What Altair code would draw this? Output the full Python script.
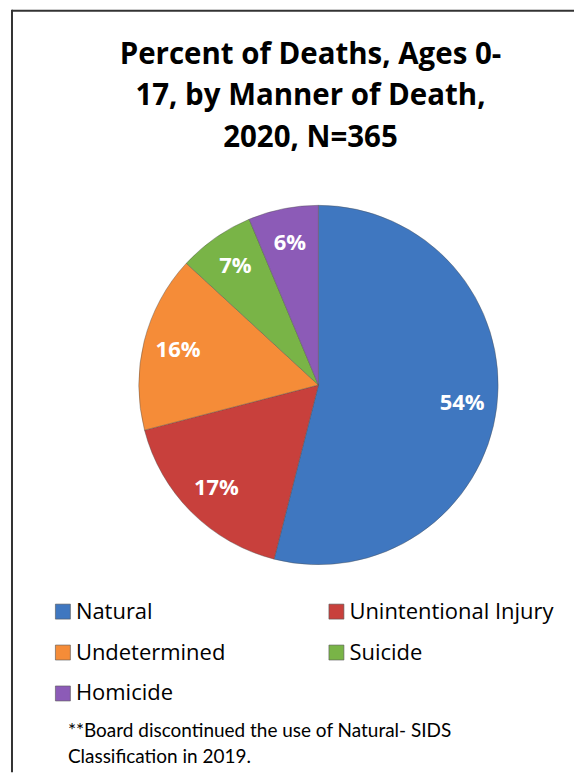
import altair as alt
import pandas as pd

CATEGORIES = ["Natural", "Unintentional Injury", "Undetermined", "Suicide", "Homicide"]
COUNTS = [197, 62, 58, 25, 23]
COLORS = ["#3f77c0", "#c8403c", "#f58c38", "#79b447", "#8c5bb7"]
TITLE_LINES = ["Percent of Deaths, Ages 0-", "17, by Manner of Death,", "2020, N=365"]
NOTE_LINES = ["**Board discontinued the use of Natural- SIDS", "Classification in 2019."]

df = pd.DataFrame({"cat": CATEGORIES, "count": COUNTS, "idx": list(range(len(CATEGORIES)))})

W, H = 567, 764
CX, CY, R = 311, 376, 180

base = alt.Chart(df).transform_joinaggregate(
    total="sum(count)"
).transform_calculate(
    label="format(datum.count / datum.total * 100, '.0f') + '%'"
)

theta = alt.Theta("count:Q", stack=True)
order = alt.Order("idx:Q")

arcs = base.mark_arc(radius=R, stroke="#4d4d4d", strokeWidth=0.8, strokeOpacity=0.5).encode(
    theta=theta,
    order=order,
    x=alt.value(CX),
    y=alt.value(CY),
    color=alt.Color(
        "cat:N",
        scale=alt.Scale(domain=CATEGORIES, range=COLORS),
        sort=CATEGORIES,
        legend=alt.Legend(
            title=None,
            orient="none",
            direction="horizontal",
            legendX=44,
            legendY=592,
            columns=2,
            columnPadding=100,
            rowPadding=19,
            symbolType="square",
            symbolSize=225,
            symbolStrokeWidth=0.6,
            symbolStrokeColor="#555555",
            labelFont="Open Sans",
            labelFontSize=22,
            labelColor="#000000",
            labelOffset=2,
            labelLimit=400,
        ),
    ),
)

labels = base.mark_text(
    radius=145, font="Open Sans", fontWeight="bold", fontSize=22, color="white"
).encode(
    theta=theta,
    order=order,
    x=alt.value(CX),
    y=alt.value(CY),
    text="label:N",
)

title = alt.Chart(alt.Data(values=[{"t": "\n".join(TITLE_LINES)}])).mark_text(
    font="Open Sans", fontWeight="bold", fontSize=29.5, color="#000000",
    align="center", baseline="alphabetic", lineBreak="\n", lineHeight=42,
).encode(x=alt.value(303), y=alt.value(54), text="t:N")

note = alt.Chart(alt.Data(values=[{"t": "\n".join(NOTE_LINES)}])).mark_text(
    font="Lato", fontSize=19, color="#000000",
    align="left", baseline="alphabetic", lineBreak="\n", lineHeight=26,
).encode(x=alt.value(60), y=alt.value(729), text="t:N")

frame_top = alt.Chart(alt.Data(values=[{}])).mark_rule(color="#333333", strokeWidth=2).encode(
    x=alt.value(4), x2=alt.value(W), y=alt.value(1)
)
frame_left = alt.Chart(alt.Data(values=[{}])).mark_rule(color="#333333", strokeWidth=2).encode(
    x=alt.value(4), y=alt.value(0), y2=alt.value(H)
)

chart = alt.layer(arcs, labels, title, note, frame_top, frame_left).properties(
    width=W, height=H, padding=0, background="white"
).configure_view(stroke=None)

chart.save("out.html", embed_options={"renderer": "svg", "actions": False})
